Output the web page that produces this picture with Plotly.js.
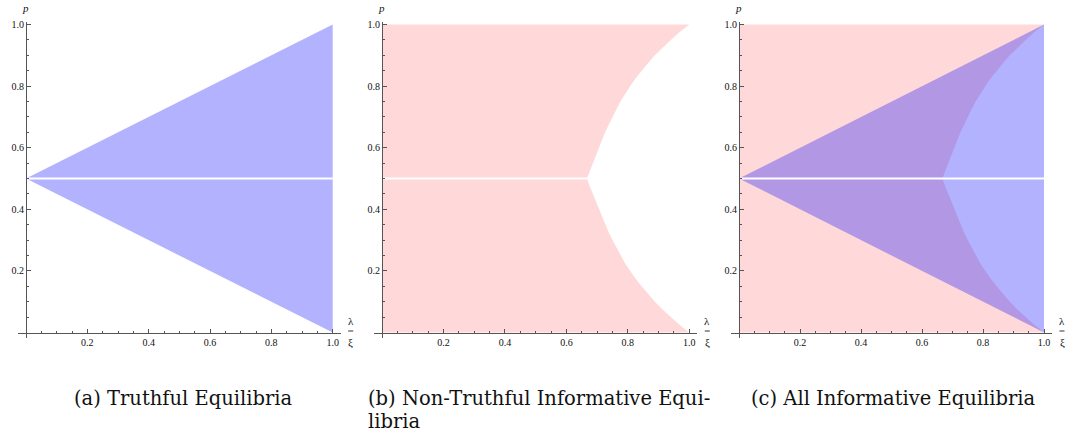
<!DOCTYPE html>
<html>
<head>
<meta charset="utf-8">
<script src="https://cdn.plot.ly/plotly-3.0.1.min.js"></script>
<style>html,body{margin:0;padding:0;background:#fff;}#chart{width:1070px;height:432px;}</style>
</head>
<body>
<div id="chart"></div>
<script>
// ---- data ----
// Truthful equilibria: triangle with apex at (0, 0.5)
const triangle_x = [0, 1, 1];
const triangle_p = [0.5, 1.0, 0.0];

// Boundary of the non-truthful informative region (right-hand curve)
const curve_x = [0.667, 0.676, 0.686, 0.696, 0.706, 0.716, 0.726, 0.738, 0.750, 0.763, 0.776,
                 0.791, 0.808, 0.825, 0.845, 0.866, 0.888, 0.913, 0.940, 0.968, 1.000];
const curve_upper_p = [0.500, 0.525, 0.550, 0.575, 0.600, 0.625, 0.650, 0.675, 0.700, 0.725, 0.750,
                       0.775, 0.800, 0.825, 0.850, 0.875, 0.900, 0.925, 0.950, 0.975, 1.000];
const curve_lower_p = [0.500, 0.475, 0.450, 0.425, 0.400, 0.375, 0.350, 0.325, 0.300, 0.275, 0.250,
                       0.225, 0.200, 0.175, 0.150, 0.125, 0.100, 0.075, 0.050, 0.025, 0.000];

// Excluded line p = 1/2
const gap_x = [0, 1];
const gap_p = [0.5, 0.5];

// Tick labels
const major_ticks = [0.2, 0.4, 0.6, 0.8, 1.0];
const major_labels = ['0.2', '0.4', '0.6', '0.8', '1.0'];
const minor_ticks = [0.05, 0.1, 0.15, 0.25, 0.3, 0.35, 0.45, 0.5, 0.55, 0.65, 0.7, 0.75, 0.85, 0.9, 0.95];

const caption_lines = [
  '(a) Truthful Equilibria',
  '(b) Non-Truthful Informative Equi-',
  'libria',
  '(c) All Informative Equilibria'
];

// ---- build region polygons from the arrays ----
const rev = a => a.slice().reverse();
const pink_x = [0, 0].concat(rev(curve_x), curve_x.slice(1));
const pink_p = [0, 1].concat(rev(curve_upper_p), curve_lower_p.slice(1));

const BLUE = 'rgba(0,0,255,0.3)';
const PINK = 'rgba(255,0,0,0.15)';
const noLine = {width: 0, color: 'rgba(0,0,0,0)'};
const ax = n => (n === 1 ? '' : String(n));

function region(xs, ys, color, n) {
  return {type: 'scatter', mode: 'lines', x: xs, y: ys, fill: 'toself', fillcolor: color,
          line: noLine, hoverinfo: 'skip', showlegend: false, xaxis: 'x' + ax(n), yaxis: 'y' + ax(n)};
}
function gapLine(xs, n) {
  return {type: 'scatter', mode: 'lines', x: xs, y: gap_p, line: {color: '#ffffff', width: 2},
          hoverinfo: 'skip', showlegend: false, xaxis: 'x' + ax(n), yaxis: 'y' + ax(n)};
}

const traces = [
  region(triangle_x, triangle_p, BLUE, 1),
  gapLine(gap_x, 1),
  region(pink_x, pink_p, PINK, 2),
  gapLine([gap_x[0], curve_x[0]], 2),
  region(pink_x, pink_p, PINK, 3),
  region(triangle_x, triangle_p, BLUE, 3),
  gapLine(gap_x, 3)
];

// ---- layout (pixel geometry) ----
const W = 1070, H = 432;
const y0px = 332.5, y1px = 24.5;           // p = 0 and p = 1
const yTopPx = 22, yBotPx = 338;
const ys = (y0px - y1px);
const yRange = [(y0px - yBotPx) / ys, (y0px - yTopPx) / ys];
const yDomain = [1 - yBotPx / H, 1 - yTopPx / H];

const panels = [
  {x0: 26, x1: 332.7},
  {x0: 382, x1: 689.3},
  {x0: 739, x1: 1044}
];

const SERIF = "'Liberation Serif', 'Times New Roman', serif";
const tickFont = {family: SERIF, size: 10, color: '#111'};
const AX = '#555';

const layout = {
  width: W, height: H, autosize: false,
  margin: {l: 0, r: 0, t: 0, b: 0},
  paper_bgcolor: '#ffffff', plot_bgcolor: 'rgba(0,0,0,0)',
  showlegend: false,
  annotations: [], shapes: []
};

panels.forEach((pn, i) => {
  const s = pn.x1 - pn.x0;
  const L = pn.x0 - 8, R = pn.x1 + 8;
  const suf = i === 0 ? '' : String(i + 1);
  const common = {
    showgrid: false, zeroline: false, showline: true, linecolor: AX, linewidth: 1,
    ticks: 'inside', ticklen: 4, tickwidth: 1, tickcolor: AX,
    tickmode: 'array', tickvals: major_ticks, ticktext: major_labels,
    minor: {tickmode: 'array', tickvals: minor_ticks, ticks: 'inside', ticklen: 2, tickwidth: 1, tickcolor: AX, showgrid: false},
    tickfont: tickFont, fixedrange: true
  };
  layout['xaxis' + suf] = Object.assign({
    domain: [L / W, R / W], range: [(L - pn.x0) / s, (R - pn.x0) / s],
    anchor: 'free', position: 1 - y0px / H
  }, common);
  layout['yaxis' + suf] = Object.assign({
    domain: yDomain, range: yRange,
    anchor: 'free', position: pn.x0 / W
  }, common);
  const labFont = {family: SERIF, size: 11, color: '#111'};
  layout.annotations.push(
    {xref: 'paper', yref: 'paper', x: (pn.x0 - 1) / W, y: 1 - 8 / H, text: '<i>p</i>',
     showarrow: false, xanchor: 'center', yanchor: 'middle', font: labFont},
    {xref: 'paper', yref: 'paper', x: (pn.x1 + 18) / W, y: 1 - 321 / H, text: 'λ',
     showarrow: false, xanchor: 'center', yanchor: 'middle', font: labFont},
    {xref: 'paper', yref: 'paper', x: (pn.x1 + 18) / W, y: 1 - 342 / H, text: 'ξ',
     showarrow: false, xanchor: 'center', yanchor: 'middle', font: labFont}
  );
  layout.shapes.push({type: 'line', xref: 'paper', yref: 'paper',
    x0: (pn.x1 + 15.5) / W, x1: (pn.x1 + 20.5) / W, y0: 1 - 331 / H, y1: 1 - 331 / H,
    line: {color: '#333', width: 1}});
});

const capFont = {family: "'DejaVu Serif', serif", size: 19.5, color: '#111'};
const capPos = [[73, 398], [367, 398], [367, 421], [750, 398]];
caption_lines.forEach((c, i) => {
  layout.annotations.push({xref: 'paper', yref: 'paper', x: capPos[i][0] / W, y: 1 - capPos[i][1] / H,
    text: c, showarrow: false, xanchor: 'left', yanchor: 'middle', align: 'left', font: capFont,
    borderpad: 0});
});

Plotly.newPlot('chart', traces, layout, {displayModeBar: false, staticPlot: true});
</script>
</body>
</html>
